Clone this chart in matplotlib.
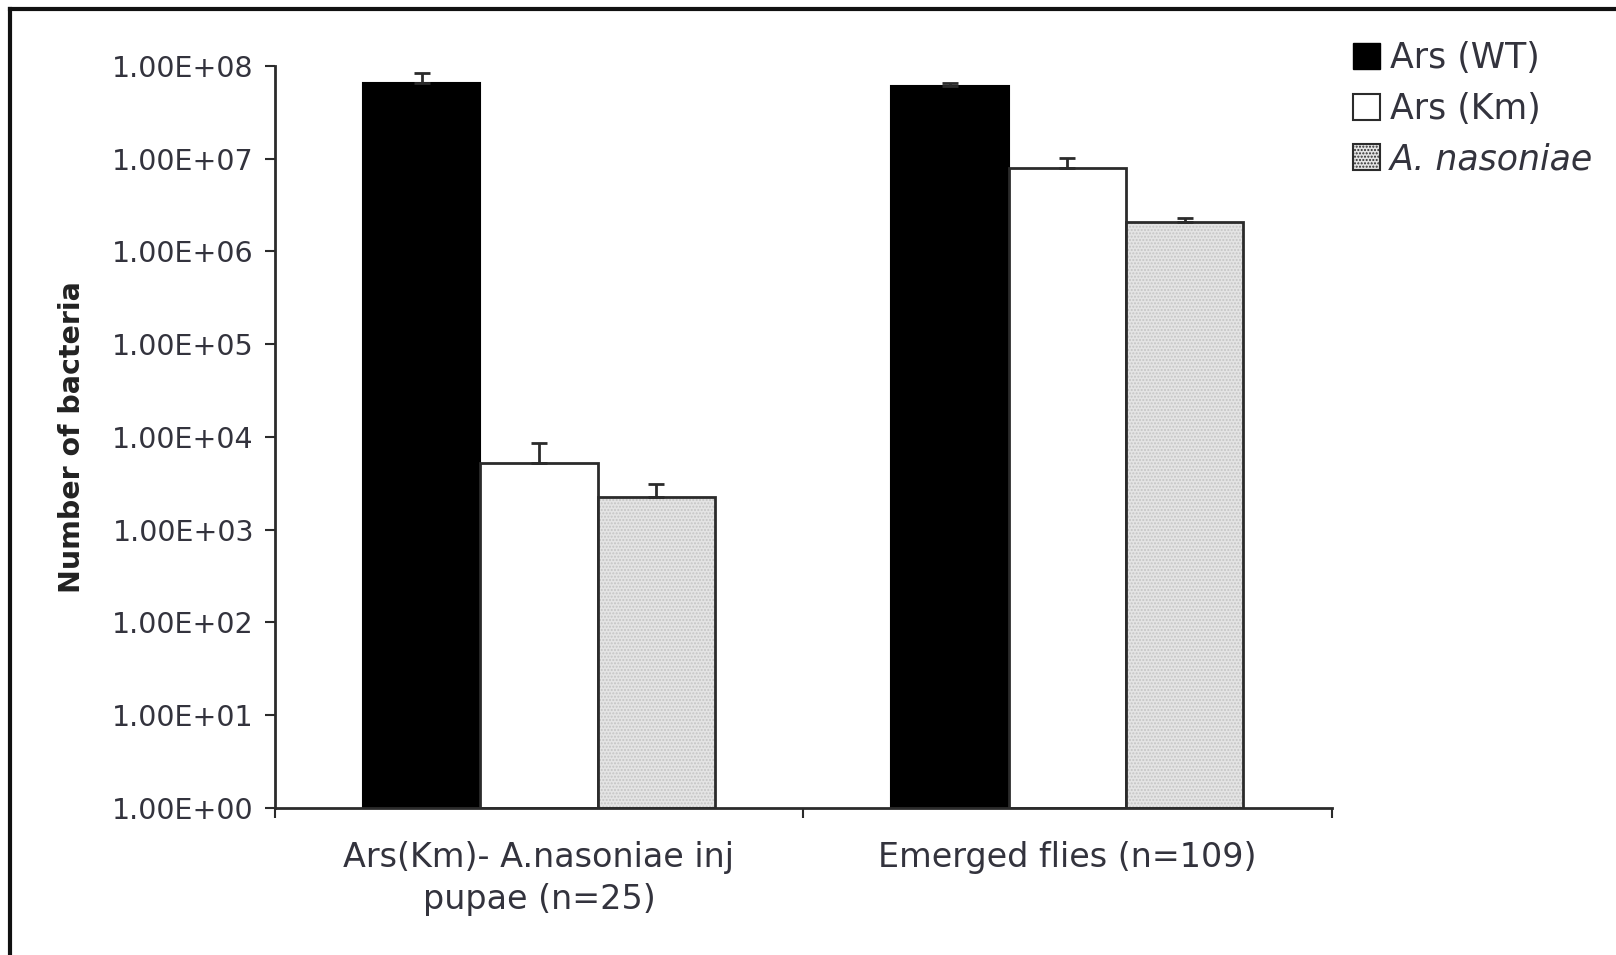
import numpy as np
import matplotlib.pyplot as plt
from matplotlib.patches import Patch
from matplotlib.lines import Line2D

# data
groups = ['Ars(Km)- A.nasoniae inj\npupae (n=25)', 'Emerged flies (n=109)']
series = ['Ars (WT)', 'Ars (Km)', 'A. nasoniae']
wt = [6.5e7, 6.0e7]
wt_err = [1.9e7, 0.5e7]
km = [5.2e3, 7.9e6]
km_err = [3.5e3, 2.3e6]
an = [2.25e3, 2.1e6]
an_err = [0.85e3, 0.2e6]
yticks = [1e0, 1e1, 1e2, 1e3, 1e4, 1e5, 1e6, 1e7, 1e8]
ytick_labels = ['1.00E+00', '1.00E+01', '1.00E+02', '1.00E+03', '1.00E+04',
                '1.00E+05', '1.00E+06', '1.00E+07', '1.00E+08']

edge = '#2b2b2b'
txt = '#33333d'

fig = plt.figure(figsize=(16.16, 9.55), dpi=100)
ax = fig.add_axes([0.170, 0.154, 0.654, 0.777])

x = np.arange(len(groups))
w = 0.222
err_kw = dict(ecolor=edge, elinewidth=2, capsize=6, capthick=2)

ax.bar(x - w, wt, w, bottom=1, color='black', edgecolor='black', lw=1.5,
       yerr=[np.zeros(2), wt_err], error_kw=err_kw, zorder=2)
ax.bar(x, km, w, bottom=1, color='white', edgecolor=edge, lw=2,
       yerr=[np.zeros(2), km_err], error_kw=err_kw, zorder=2)
# dotted gray fill, then dark outline on top
ax.bar(x + w, an, w, bottom=1, color='#e4e4e4', edgecolor='#c4c4c4', lw=0,
       hatch='.....', zorder=2)
ax.bar(x + w, an, w, bottom=1, fill=False, edgecolor=edge, lw=2,
       yerr=[np.zeros(2), an_err], error_kw=err_kw, zorder=3)

ax.set_yscale('log')
ax.set_ylim(1, 1e8)
ax.set_xlim(-0.5, 1.5)
ax.set_yticks(yticks)
ax.set_yticklabels(ytick_labels)
ax.yaxis.set_minor_locator(plt.NullLocator())
ax.tick_params(axis='y', direction='out', length=7, width=1.5, color=edge,
               labelsize=20.5, labelcolor=txt, pad=8)

# category labels between boundary ticks
ax.set_xticks([-0.5, 0.5, 1.5])
ax.set_xticklabels([])
ax.tick_params(axis='x', direction='out', length=7, width=1.5, color=edge)
ax.set_xticks(x, minor=True)
ax.set_xticklabels(groups, minor=True, fontsize=24, color=txt,
                   linespacing=1.35)
ax.tick_params(axis='x', which='minor', length=0, pad=24)

for s in ['top', 'right']:
    ax.spines[s].set_visible(False)
for s in ['left', 'bottom']:
    ax.spines[s].set_color(edge)
    ax.spines[s].set_linewidth(2)

ax.set_ylabel('Number of bacteria', fontsize=20.5, fontweight='bold',
              color='#222222', labelpad=19)

handles = [Patch(facecolor='black', edgecolor='black'),
           Patch(facecolor='white', edgecolor=edge, lw=1.5),
           Patch(facecolor='#e4e4e4', edgecolor=edge, lw=1.5, hatch='.....')]
leg = fig.legend(handles, series, loc='upper left',
                 bbox_to_anchor=(0.822, 0.982), frameon=False, fontsize=25,
                 handlelength=0.78, handleheight=0.78, handletextpad=0.3,
                 labelspacing=0.47, borderaxespad=0.3)
for t in leg.get_texts():
    t.set_color(txt)
leg.get_texts()[2].set_style('italic')

# outer frame of the original image
fig.add_artist(Line2D([0.006, 1.0], [0.991, 0.991], color='#111111', lw=3,
                      transform=fig.transFigure))
fig.add_artist(Line2D([0.006, 0.006], [0.0, 0.991], color='#111111', lw=3,
                      transform=fig.transFigure))

fig.savefig('out.png', dpi=100)
